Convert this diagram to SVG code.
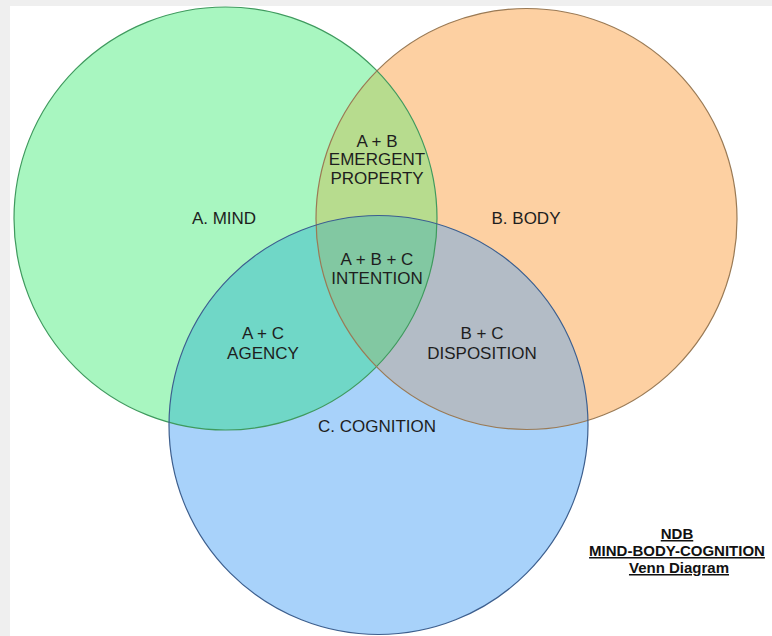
<svg xmlns="http://www.w3.org/2000/svg" width="772" height="636" viewBox="0 0 772 636">
  <style>
    .lbl { font-family: "Liberation Sans", Arial, sans-serif; font-size: 17px; fill: #1e1e1e; text-anchor: middle; }
    .ttl { font-family: "Liberation Sans", Arial, sans-serif; font-size: 15px; font-weight: bold; fill: #111; text-anchor: middle; text-decoration: underline; }
    .edge { fill: none; stroke-width: 1.2; }
  </style>
  <defs>
    <circle id="cA" cx="225.5" cy="218.5" r="211.5"/>
    <circle id="cB" cx="526.5" cy="219" r="210.5"/>
    <circle id="cC" cx="378.5" cy="425" r="209.5"/>
    <clipPath id="clipA"><use href="#cA"/></clipPath>
    <clipPath id="clipB"><use href="#cB"/></clipPath>
  </defs>

  <rect x="0" y="0" width="772" height="636" fill="#efefef"/>
  <rect x="10" y="6" width="762" height="630" fill="#ffffff"/>

  <g id="fills">
    <use href="#cA" fill="#a8f6c0"/>
    <use href="#cB" fill="#fdd0a2"/>
    <use href="#cC" fill="#a8d2fa"/>
    <use href="#cB" fill="#b7dc8e" clip-path="url(#clipA)"/>
    <use href="#cC" fill="#70d7c7" clip-path="url(#clipA)"/>
    <use href="#cC" fill="#b3bcc6" clip-path="url(#clipB)"/>
    <g clip-path="url(#clipA)">
      <use href="#cC" fill="#82c8a2" clip-path="url(#clipB)"/>
    </g>
  </g>

  <g id="node-A">
    <use href="#cA" class="edge" stroke="#3f9a5e"/>
    <text class="lbl" x="224" y="224">A. MIND</text>
  </g>
  <g id="node-B">
    <use href="#cB" class="edge" stroke="#9a7a55"/>
    <text class="lbl" x="526" y="224">B. BODY</text>
  </g>
  <g id="node-C">
    <use href="#cC" class="edge" stroke="#3d5f8e"/>
    <text class="lbl" x="377" y="432">C. COGNITION</text>
  </g>

  <g id="region-AB">
    <text class="lbl" x="377" y="147">A + B</text>
    <text class="lbl" x="377" y="165">EMERGENT</text>
    <text class="lbl" x="377" y="184">PROPERTY</text>
  </g>
  <g id="region-ABC">
    <text class="lbl" x="377" y="265">A + B + C</text>
    <text class="lbl" x="377" y="284">INTENTION</text>
  </g>
  <g id="region-AC">
    <text class="lbl" x="263" y="339">A + C</text>
    <text class="lbl" x="263" y="359">AGENCY</text>
  </g>
  <g id="region-BC">
    <text class="lbl" x="482" y="339">B + C</text>
    <text class="lbl" x="482" y="359">DISPOSITION</text>
  </g>

  <g id="connectors"/>

  <g id="title">
    <text class="ttl" x="677" y="539">NDB </text>
    <text class="ttl" x="677" y="556">MIND-BODY-COGNITION</text>
    <text class="ttl" x="679" y="573">Venn Diagram</text>
  </g>
</svg>
